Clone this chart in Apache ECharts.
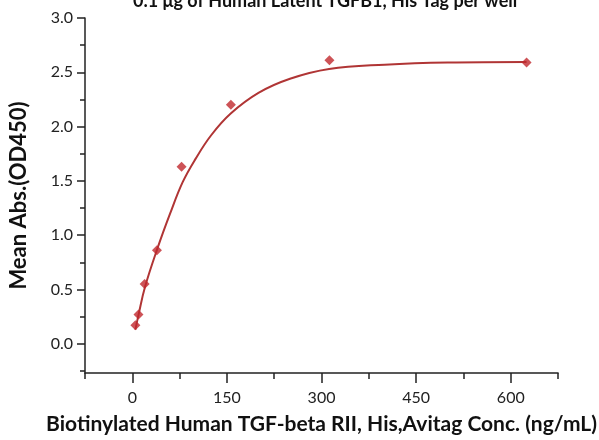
<!DOCTYPE html>
<html>
<head>
<meta charset="utf-8">
<script src="https://cdn.jsdelivr.net/npm/echarts@6/dist/echarts.min.js"></script>
<style>html,body{margin:0;padding:0;background:#fff}#c{width:599px;height:440px}</style>
</head>
<body>
<div id="c"></div>
<script>
const titleText = '0.1 μg of Human Latent TGFB1, His Tag per well';
const xName = 'Biotinylated Human TGF-beta RII, His,Avitag Conc. (ng/mL)';
const yName = 'Mean Abs.(OD450)';
// measured points
const conc = [4.88, 9.77, 19.53, 39.06, 78.13, 156.25, 312.5, 625];
const absVals = [0.17, 0.27, 0.55, 0.86, 1.63, 2.20, 2.61, 2.59];
// fitted curve
const curveX = [4.88, 10, 20, 40, 60, 80, 100, 125, 156, 200, 250, 312, 400, 500, 625];
const curveY = [0.13, 0.27, 0.52, 0.88, 1.20, 1.49, 1.70, 1.92, 2.12, 2.31, 2.44, 2.53, 2.57, 2.59, 2.595];
// ticks
const xMajor = [0, 150, 300, 450, 600];
const xMinor = [-75, 75, 225, 375, 525, 675];
const yMajor = [0, 0.5, 1.0, 1.5, 2.0, 2.5, 3.0];
const yMinor = [-0.25, 0.25, 0.75, 1.25, 1.75, 2.25, 2.75];

const font = 'Lato';
const axisCol = '#222';
const red = '#c0282d';

const chart = echarts.init(document.getElementById('c'));
chart.setOption({
  animation: false,
  title: {
    text: titleText, left: 128, top: -13,
    textStyle: {fontFamily: font, fontSize: 18, fontWeight: 'bold', color: '#111'}
  },
  grid: {left: 83, right: 35, top: 18, bottom: 66},
  xAxis: [{
    type: 'value', min: -75, max: 675,
    name: xName, nameLocation: 'middle', nameGap: 41,
    nameTextStyle: {fontFamily: font, fontSize: 21, fontWeight: 'bold', color: '#111'},
    axisLine: {show: true, onZero: false, lineStyle: {color: axisCol, width: 1.5}},
    axisTick: {show: true, length: 10, customValues: xMajor, lineStyle: {color: axisCol, width: 1.5}},
    axisLabel: {customValues: xMajor, margin: 17, fontFamily: font, fontSize: 16, color: '#222'},
    splitLine: {show: false}
  }, {
    type: 'value', min: -75, max: 675, position: 'bottom',
    axisLine: {show: false, onZero: false},
    axisTick: {show: true, length: 6, customValues: xMinor, lineStyle: {color: axisCol, width: 1.5}},
    axisLabel: {show: false},
    splitLine: {show: false}
  }],
  yAxis: [{
    type: 'value', min: -0.27, max: 3.0,
    name: yName, nameLocation: 'middle', nameGap: 55, nameRotate: 90,
    nameTextStyle: {fontFamily: font, fontSize: 22, fontWeight: 'bold', color: '#111'},
    axisLine: {show: true, onZero: false, lineStyle: {color: axisCol, width: 1.5}},
    axisTick: {show: true, length: 8, customValues: yMajor, lineStyle: {color: axisCol, width: 1.5}},
    axisLabel: {customValues: yMajor, margin: 12, fontFamily: font, fontSize: 16, color: '#222',
      formatter: v => v.toFixed(1)},
    splitLine: {show: false}
  }, {
    type: 'value', min: -0.27, max: 3.0, position: 'left',
    axisLine: {show: false, onZero: false},
    axisTick: {show: true, length: 5, customValues: yMinor, lineStyle: {color: axisCol, width: 1.5}},
    axisLabel: {show: false},
    splitLine: {show: false}
  }],
  series: [{
    type: 'line', smooth: 0.4, showSymbol: false,
    data: curveX.map((x, i) => [x, curveY[i]]),
    lineStyle: {color: '#b03535', width: 2}, z: 2
  }, {
    type: 'scatter', symbol: 'diamond', symbolSize: [10, 10],
    data: conc.map((x, i) => [x, absVals[i]]),
    itemStyle: {color: red}, z: 3
  }]
});
</script>
</body>
</html>
